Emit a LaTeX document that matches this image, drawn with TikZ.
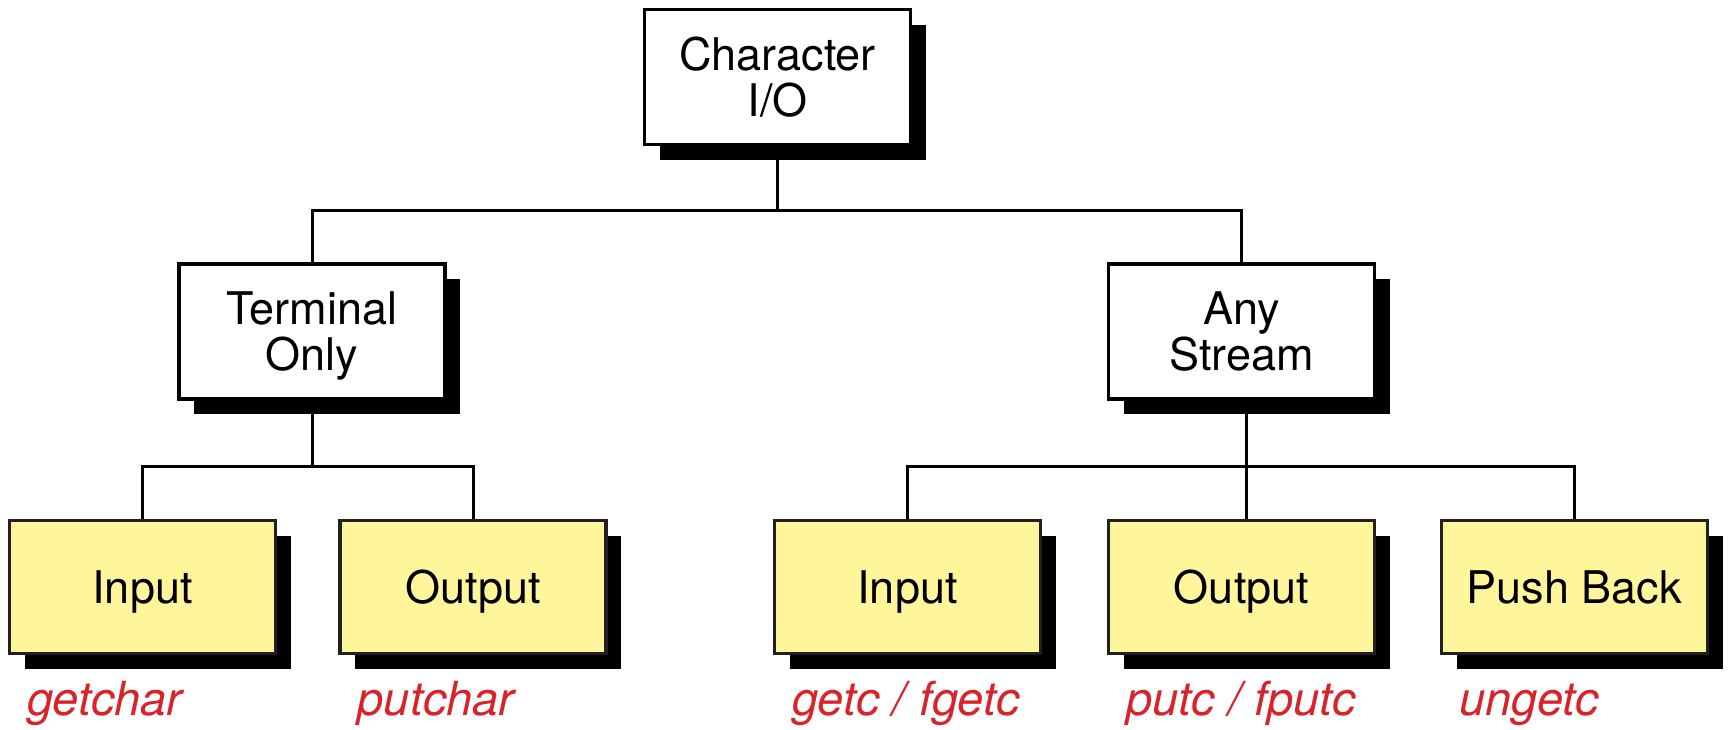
\documentclass[tikz,border=0pt]{standalone}
\usepackage{fontspec}
\setmainfont{TeX Gyre Heros}
\usetikzlibrary{shadows,calc}
\definecolor{boxyellow}{RGB}{255,245,155}
\definecolor{fnred}{RGB}{216,35,42}
\definecolor{edgegray}{RGB}{35,31,32}

\begin{document}
\begin{tikzpicture}[x=0.5pt,y=-0.5pt,
  every node/.style={font=\fontsize{22.5}{23}\selectfont, inner sep=0pt},
  hdrbox/.style={draw=black, line width=1.65pt, fill=white,
    minimum width=133pt, minimum height=67.5pt, align=center, text depth=0pt,
    drop shadow={shadow xshift=7.5pt, shadow yshift=-7.5pt, fill=black, opacity=1}},
  leafbox/.style={hdrbox, draw=edgegray, fill=boxyellow, minimum height=66.5pt},
  fname/.style={text=fnred, font=\fontsize{23.5}{24}\selectfont\itshape, anchor=base west},
  link/.style={line width=1.5pt, draw=black}]

\useasboundingbox (0,0) rectangle (1729,729);

% tree levels
\node[hdrbox] (char) at (777.5,77) {Character\\I/O};
\node[hdrbox] (term) at (312,331.5) {Terminal\\Only};
\node[hdrbox] (anys) at (1241.5,331.5) {Any\\Stream};

\node[leafbox] (in1)  at (142.5,587)  {Input};
\node[leafbox] (out1) at (473,587)    {Output};
\node[leafbox] (in2)  at (907.5,587)  {Input};
\node[leafbox] (out2) at (1241.5,587) {Output};
\node[leafbox] (push) at (1574.5,587) {Push Back};

% function names under the leaves
\node[fname] (f1) at ($(in1.south west)+(19,60)$)  {getchar};
\node[fname] (f2) at ($(out1.south west)+(19,60)$) {putchar};
\node[fname] (f3) at ($(in2.south west)+(19,60)$)  {getc / fgetc};
\node[fname] (f4) at ($(out2.south west)+(19,60)$) {putc / fputc};
\node[fname] (f5) at ($(push.south west)+(19,60)$) {ungetc};

% bus lines
\coordinate (bus1) at (0,210);
\coordinate (bus2) at (0,466);

\draw[link] (char.south) -- (char.south |- bus1);
\draw[link] (term.north) |- (anys.north |- bus1) -- (anys.north);

\draw[link] (term.south) -- ($(term.south |- bus2)+(0,2)$);
\draw[link] (in1.north) |- (out1.north |- bus2) -- (out1.north);

\draw[link] (in2.north) |- (push.north |- bus2) -- (push.north);
\draw[link] ([xshift=2.5pt]anys.south) -- ([xshift=2.5pt]out2.north);
\end{tikzpicture}
\end{document}
